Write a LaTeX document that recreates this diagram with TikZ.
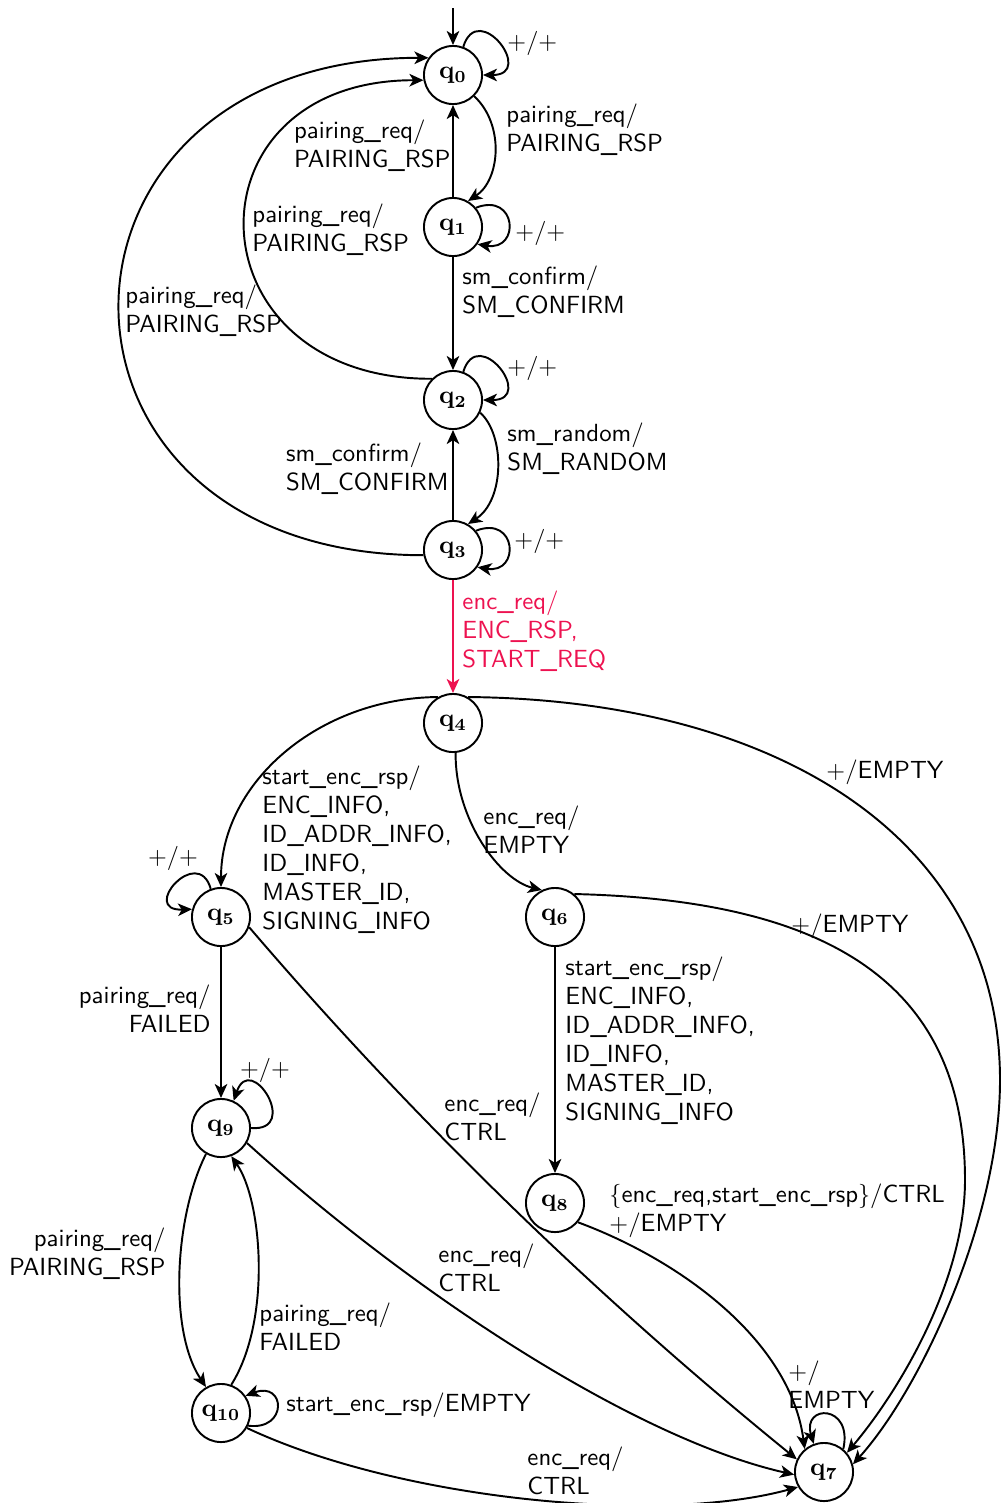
\documentclass[tikz,border=0pt]{standalone}
\usetikzlibrary{arrows.meta}
\definecolor{encred}{RGB}{237,18,80}
\begin{document}
\begin{tikzpicture}[x=0.4132pt,y=-0.4132pt,
  state/.style={circle,draw,line width=0.8pt,minimum size=24pt,inner sep=0pt,font=\fontsize{10.5pt}{12pt}\selectfont\bfseries},
  edge/.style={line width=0.8pt,-{Stealth[length=5.8pt,width=5.2pt,inset=1.6pt]}},
  lbl/.style={font=\fontsize{10.25pt}{12pt}\selectfont\sffamily,inner sep=0pt,align=left},
  lblr/.style={font=\fontsize{10.25pt}{12pt}\selectfont\sffamily,inner sep=0pt,align=right},
]
\useasboundingbox (0,0) rectangle (1002,1503);

% states
\node[state] (q0) at (453,75) {q$_{\mathbf{0}}$};
\node[state] (q1) at (453,227) {q$_{\mathbf{1}}$};
\node[state] (q2) at (453,400) {q$_{\mathbf{2}}$};
\node[state] (q3) at (453,550) {q$_{\mathbf{3}}$};
\node[state] (q4) at (453,723) {q$_{\mathbf{4}}$};
\node[state] (q5) at (221,917) {q$_{\mathbf{5}}$};
\node[state] (q6) at (555,917) {q$_{\mathbf{6}}$};
\node[state] (q8) at (555,1203) {q$_{\mathbf{8}}$};
\node[state] (q9) at (221,1128) {q$_{\mathbf{9}}$};
\node[state] (q10) at (221,1413) {q$_{\mathbf{10}}$};
\node[state] (q7) at (824,1472) {q$_{\mathbf{7}}$};
\coordinate (init) at (453,8);

% initial arrow
\draw[edge] (init) -- (q0);

% self loops
\draw[edge] (q0.70) .. controls +(15,-48) and +(53,0) .. (q0.0);
\draw[edge] (q1.40) .. controls +(41,-16) and +(43,7) .. (q1.-35);
\draw[edge] (q2.70) .. controls +(15,-48) and +(53,0) .. (q2.0);
\draw[edge] (q3.40) .. controls +(41,-16) and +(43,7) .. (q3.-35);
\draw[edge] (q5.110) .. controls +(-13,-45) and +(-53,2) .. (q5.165);
\draw[edge] (q9.0) .. controls +(50,4) and +(17,-50) .. (q9.65);
\draw[edge] (q10.-25) .. controls +(40,5) and +(40,-15) .. (q10.35);
\draw[edge] (q7.50) .. controls +(10,-45) and +(-12,-40) .. (q7.110);

% pairing phase
\draw[edge] (q0.-45) .. controls (505,125) and (500,180) .. (q1.60);
\draw[edge] (q1) -- (q0);
\draw[edge] (q1) -- (q2);
\draw[edge] (q2.135) .. controls (188,379.5) and (180,80) .. (q0.190);
\draw[edge] (q3.190) .. controls (15,555) and (20,58) .. (q0.145);
\draw[edge] (q2.-25) .. controls (505,435) and (505,500) .. (q3.60);
\draw[edge] (q3) -- (q2);
\draw[edge,encred] (q3) -- (q4);

% encryption phase
\draw[edge] (q4.120) .. controls (318.5,698) and (221,783) .. (q5.90);
\draw[edge] (q4.-85) .. controls (455,820) and (500,880) .. (q6.116);
\draw[edge] (q4.60) .. controls (780,700) and (1000,840) .. (1000,1080)
  .. controls (1000,1220) and (920,1390) .. (q7.15);
\draw[edge] (q6.50) .. controls (823.6,900) and (965,980) .. (965,1180)
  .. controls (965,1280) and (900,1390) .. (q7.40);
\draw[edge] (q6) -- (q8);
\draw[edge] (q8.-40) .. controls (680,1260) and (790,1340) .. (q7.130);
\draw[edge] (q5) -- (q9);
\draw[edge] (q5.-20) .. controls (415,1121) and (598,1298) .. (q7.155);
\draw[edge] (q9.240) .. controls (175,1215) and (168,1330) .. (q10.120);
\draw[edge] (q10.70) .. controls (272,1320) and (262,1200) .. (q9.-70);
\draw[edge] (q9.-30) .. controls (420,1300) and (640,1440) .. (q7.185);
\draw[edge] (q10.-30) .. controls (400,1500) and (660,1525) .. (q7.210);

% labels
\node[lbl,anchor=west] (l0) at (507,43) {$+/+$};
\node[lbl,anchor=west] (l01) at (506,130) {pairing\_req/\\PAIRING\_RSP};
\node[lbl,anchor=east] (l10) at (451,146) {pairing\_req/\\PAIRING\_RSP};
\node[lbl,anchor=west] (l1) at (515,233) {$+/+$};
\node[lbl,anchor=west] (l12) at (462,292) {sm\_confirm/\\SM\_CONFIRM};
\node[lbl,anchor=west] (l20) at (252,230) {pairing\_req/\\PAIRING\_RSP};
\node[lbl,anchor=west] (l30) at (125,311) {pairing\_req/\\PAIRING\_RSP};
\node[lbl,anchor=west] (l2) at (507,368) {$+/+$};
\node[lbl,anchor=west] (l23) at (507,449) {sm\_random/\\SM\_RANDOM};
\node[lbl,anchor=east] (l32) at (449,469) {sm\_confirm/\\SM\_CONFIRM};
\node[lbl,anchor=west] (l3) at (514,541) {$+/+$};
\node[lbl,anchor=west,text=encred] (l34) at (462,631) {enc\_req/\\ENC\_RSP,\\START\_REQ};
\node[lbl,anchor=west] (l45) at (262,850) {start\_enc\_rsp/\\ENC\_INFO,\\ID\_ADDR\_INFO,\\ID\_INFO,\\MASTER\_ID,\\SIGNING\_INFO};
\node[lbl] (l5) at (173,858) {$+/+$};
\node[lbl,anchor=west] (l46) at (483,830) {enc\_req/\\EMPTY};
\node[lbl,anchor=west] (l47) at (826,772) {$+$/EMPTY};
\node[lbl,anchor=west] (l67) at (791,926) {$+$/EMPTY};
\node[lbl,anchor=west] (l68) at (565,1041) {start\_enc\_rsp/\\ENC\_INFO,\\ID\_ADDR\_INFO,\\ID\_INFO,\\MASTER\_ID,\\SIGNING\_INFO};
\node[lbl,anchor=west] (l87) at (609,1211) {$\{$enc\_req,start\_enc\_rsp$\}$/CTRL\\$+$/EMPTY};
\node[lblr,anchor=east] (l59) at (211,1009) {pairing\_req/\\FAILED};
\node[lbl,anchor=west] (l57) at (444,1117) {enc\_req/\\CTRL};
\node[lbl] (l9) at (265,1070) {$+/+$};
\node[lblr,anchor=east] (l910) at (166,1254) {pairing\_req/\\PAIRING\_RSP};
\node[lbl,anchor=west] (l109) at (259,1327) {pairing\_req/\\FAILED};
\node[lbl,anchor=west] (l97) at (438,1268) {enc\_req/\\CTRL};
\node[lbl,anchor=west] (l10) at (286,1405) {start\_enc\_rsp/EMPTY};
\node[lbl,anchor=west] (l107) at (527,1471) {enc\_req/\\CTRL};
\node[lbl,anchor=west] (l7) at (788,1385) {$+$/\\EMPTY};
\end{tikzpicture}
\end{document}
